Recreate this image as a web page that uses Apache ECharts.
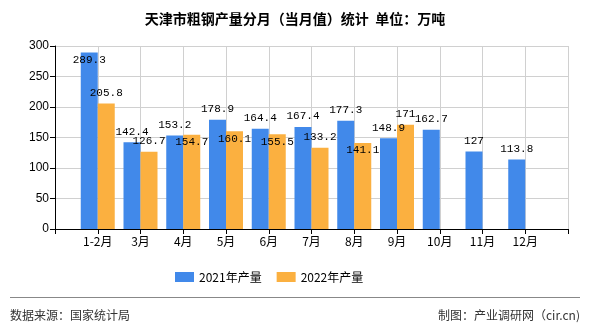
<!DOCTYPE html>
<html><head><meta charset="utf-8">
<script src="https://cdn.jsdelivr.net/npm/echarts@6/dist/echarts.min.js"></script>
<style>html,body{margin:0;padding:0;background:#fff}#c{width:590px;height:330px}</style>
</head><body><div id="c"></div>
<script>
var categories = ['1-2月','3月','4月','5月','6月','7月','8月','9月','10月','11月','12月'];
var values2021 = [289.3,142.4,153.2,178.9,164.4,167.4,177.3,148.9,162.7,127,113.8];
var values2022 = [205.8,126.7,154.7,160.1,155.5,133.2,141.1,171];
var yTicks = [0,50,100,150,200,250,300];
var seriesNames = ['2021年产量','2022年产量'];
// labels drawn inside bar top (to avoid overlap), per series index
var inside2021 = [0];
var inside2022 = [2,3,4,6];

var cjk = '"Noto Sans CJK SC", sans-serif';
var cats = [''].concat(categories).concat(['']);
function build(vals, insideIdx){
  var out = [{value: null}];
  for (var i = 0; i < categories.length; i++){
    if (i < vals.length){
      var item = {value: vals[i]};
      if (insideIdx.indexOf(i) >= 0) item.label = {position: 'insideTop', distance: 2};
      out.push(item);
    } else out.push({value: null});
  }
  out.push({value: null});
  return out;
}
var chart = echarts.init(document.getElementById('c'), null, {renderer: 'canvas'});
var labelCfg = {show: true, position: 'top', distance: 5, color: '#000', fontSize: 11, fontFamily: '"Liberation Mono", monospace'};
chart.setOption({
  animation: false,
  title: {text: '天津市粗钢产量分月（当月值）统计  单位：万吨', left: 'center', top: 7,
    textStyle: {fontSize: 14, fontWeight: 'bold', color: '#000', fontFamily: cjk}},
  legend: {data: seriesNames, left: 170, top: 266, itemWidth: 19, itemHeight: 10, itemGap: 15,
    icon: 'rect', textStyle: {fontSize: 12, color: '#000', fontFamily: cjk}},
  grid: {left: 55, right: 22, top: 46, bottom: 101, containLabel: false},
  xAxis: {type: 'category', data: cats, boundaryGap: false,
    axisLine: {lineStyle: {color: '#000'}},
    axisTick: {show: true, lineStyle: {color: '#000'}, length: 5},
    axisLabel: {color: '#000', fontSize: 12, fontFamily: cjk, margin: 6, interval: 0},
    splitLine: {show: true, lineStyle: {color: '#d0d0d0'}}},
  yAxis: {type: 'value', min: yTicks[0], max: yTicks[yTicks.length-1], interval: 50,
    axisLine: {show: true, lineStyle: {color: '#000'}},
    axisTick: {show: true, lineStyle: {color: '#000'}, length: 5},
    axisLabel: {color: '#000', fontSize: 12, margin: 6, fontFamily: 'Liberation Sans, sans-serif'},
    splitLine: {show: true, lineStyle: {color: '#d0d0d0'}}},
  series: [
    {name: seriesNames[0], type: 'bar', data: build(values2021, inside2021), barWidth: 17, barGap: '0%',
      itemStyle: {color: '#4189ea'}, label: labelCfg},
    {name: seriesNames[1], type: 'bar', data: build(values2022, inside2022), barWidth: 17, barGap: '0%',
      itemStyle: {color: '#fbb040'}, label: labelCfg}
  ],
  graphic: [
    {type: 'line', shape: {x1: 10, y1: 297.5, x2: 580, y2: 297.5}, style: {stroke: '#888', lineWidth: 1}},
    {type: 'text', left: 10, top: 309, style: {text: '数据来源：国家统计局', fontSize: 12, fill: '#333', fontFamily: cjk}},
    {type: 'text', right: 10, top: 309, style: {text: '制图：产业调研网（cir.cn)', fontSize: 12, fill: '#333', fontFamily: cjk}}
  ]
});
</script></body></html>
